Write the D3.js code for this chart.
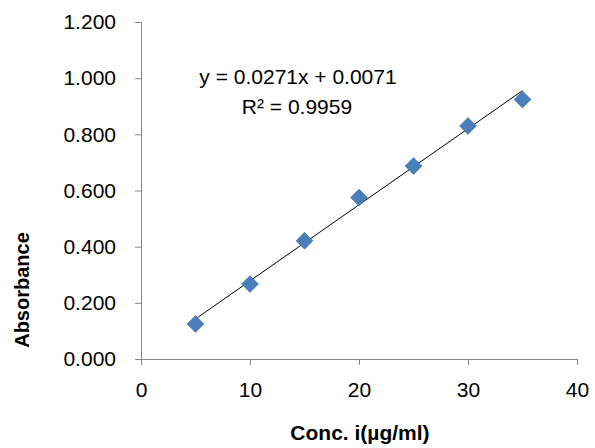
<!DOCTYPE html>
<html><head><meta charset="utf-8">
<script src="https://cdn.jsdelivr.net/npm/d3@7"></script>
<style>body{margin:0;background:#fff}text{font-family:"Liberation Sans",Arial,sans-serif}</style>
</head><body>
<svg id="chart" width="595" height="448"></svg>
<script>
const concs = [5, 10, 15, 20, 25, 30, 35]
const absorbance = [0.125, 0.267, 0.421, 0.575, 0.687, 0.830, 0.924]
const xTicks = [0, 10, 20, 30, 40]
const yTicks = [0, 0.2, 0.4, 0.6, 0.8, 1.0, 1.2]
const slope = 0.0271, intercept = 0.0071

const svg = d3.select('#chart')
const x = d3.scaleLinear().domain([0, 40]).range([141, 577])
const y = d3.scaleLinear().domain([0, 1.2]).range([359, 22])

// axes
const xa = svg.append('g').attr('transform', 'translate(0,359)')
  .call(d3.axisBottom(x).tickValues(xTicks).tickSize(6).tickPadding(17))
const ya = svg.append('g').attr('transform', 'translate(141,0)')
  .call(d3.axisLeft(y).tickValues(yTicks).tickSize(6).tickPadding(19).tickFormat(d3.format('.3f')))
svg.selectAll('.domain, .tick line').attr('stroke', '#868686')
svg.selectAll('.tick text').attr('font-size', 21).attr('fill', '#000')
  .attr('font-family', '"Liberation Sans",Arial,sans-serif')

// trendline
svg.append('line')
  .attr('x1', x(concs[0])).attr('y1', y(slope * concs[0] + intercept))
  .attr('x2', x(concs[concs.length - 1])).attr('y2', y(slope * concs[concs.length - 1] + intercept))
  .attr('stroke', '#000').attr('stroke-width', 1)

// points (square diamonds)
svg.selectAll('.pt').data(concs).join('rect')
  .attr('x', -6).attr('y', -6).attr('width', 12).attr('height', 12)
  .attr('transform', (d, i) => `translate(${x(d)},${y(absorbance[i])}) rotate(45)`)
  .attr('fill', '#4a7ebb').attr('stroke', '#3d6ea8').attr('stroke-width', 0.5)

// equation
svg.append('text').attr('x', 298).attr('y', 84).attr('text-anchor', 'middle').attr('font-size', 21)
  .text('y = 0.0271x + 0.0071')
svg.append('text').attr('x', 297).attr('y', 114).attr('text-anchor', 'middle').attr('font-size', 21)
  .text('R² = 0.9959')

// titles
svg.append('text').attr('x', 360).attr('y', 440).attr('text-anchor', 'middle')
  .attr('font-size', 21).attr('font-weight', 'bold').attr('font-family', '"Open Sans",Arial,sans-serif')
  .text('Conc. i(µg/ml)')
svg.append('text').attr('transform', 'translate(29,290) rotate(-90)').attr('text-anchor', 'middle')
  .attr('font-size', 20).attr('font-weight', 'bold').attr('font-family', '"Open Sans",Arial,sans-serif')
  .text('Absorbance')
</script>
</body></html>
